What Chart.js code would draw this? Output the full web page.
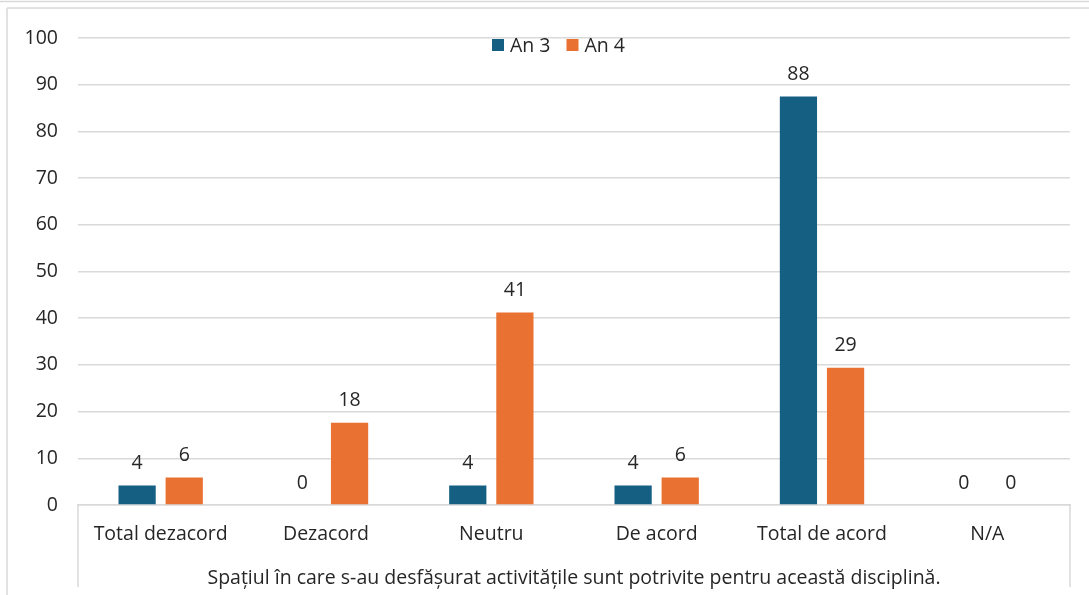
<!DOCTYPE html>
<html>
<head>
<meta charset="utf-8">
<script src="https://cdn.jsdelivr.net/npm/chart.js@4"></script>
<style>
  html, body { margin: 0; padding: 0; background: #ffffff; }
  #wrap { width: 1089px; height: 595px; position: relative; }
</style>
</head>
<body>
<div id="wrap"><canvas id="c" width="1089" height="595"></canvas></div>
<script>
const categories = ["Total dezacord", "Dezacord", "Neutru", "De acord", "Total de acord", "N/A"];
const seriesNames = ["An 3", "An 4"];
const an3 = [4.2, 0, 4.2, 4.2, 87.5, 0];
const an4 = [5.9, 17.6, 41.2, 5.9, 29.4, 0];
const yTicks = [0, 10, 20, 30, 40, 50, 60, 70, 80, 90, 100];
const groupTitle = "Spațiul în care s-au desfășurat activitățile sunt potrivite pentru această disciplină.";

const FONT = "'Open Sans', 'Liberation Sans', Arial, sans-serif";
const FSIZE = 19.5;
const TEXT = "#262626";
const GRID = "#d9d9d9";
const COLORS = ["#156082", "#E97132"];

const decor = {
  id: 'decor',
  beforeDraw(chart) {
    const ctx = chart.ctx;
    ctx.save();
    ctx.strokeStyle = GRID;
    ctx.lineWidth = 1.5;
    ctx.beginPath();
    ctx.moveTo(0, 1.5); ctx.lineTo(chart.width, 1.5);
    ctx.moveTo(7, 8); ctx.lineTo(chart.width, 8);
    ctx.moveTo(7, 8); ctx.lineTo(7, chart.height);
    ctx.stroke();
    ctx.restore();
  },
  afterDraw(chart) {
    const ctx = chart.ctx;
    const a = chart.chartArea;
    ctx.save();
    ctx.strokeStyle = GRID;
    ctx.lineWidth = 1.5;
    ctx.beginPath();
    ctx.moveTo(a.left, a.bottom); ctx.lineTo(a.left, chart.height - 8);
    ctx.moveTo(a.right, a.bottom); ctx.lineTo(a.right, chart.height - 8);
    ctx.stroke();
    ctx.restore();
  },
  afterDatasetsDraw(chart) {
    const ctx = chart.ctx;
    ctx.save();
    ctx.font = FSIZE + "px " + FONT;
    ctx.fillStyle = TEXT;
    ctx.textAlign = 'center';
    ctx.textBaseline = 'middle';
    chart.data.datasets.forEach((ds, i) => {
      const meta = chart.getDatasetMeta(i);
      meta.data.forEach((el, j) => {
        ctx.fillText(String(Math.round(ds.data[j])), el.x, el.y - 22);
      });
    });
    // legend
    const items = chart.data.datasets.map(ds => ({ label: ds.label, color: ds.backgroundColor }));
    const box = 12, gapText = 6, gapItem = 16;
    let total = 0;
    items.forEach((it, k) => {
      it.w = ctx.measureText(it.label).width;
      total += box + gapText + it.w + (k < items.length - 1 ? gapItem : 0);
    });
    let x = chart.width / 2 + 14 - total / 2;
    const cy = 45;
    ctx.textAlign = 'left';
    items.forEach(it => {
      ctx.fillStyle = it.color;
      ctx.fillRect(x, cy - box / 2, box, box);
      x += box + gapText;
      ctx.fillStyle = TEXT;
      ctx.fillText(it.label, x, cy + 1);
      x += it.w + gapItem;
    });
    ctx.restore();
  }
};

new Chart(document.getElementById('c'), {
  type: 'bar',
  data: {
    labels: categories,
    datasets: [
      { label: seriesNames[0], data: an3, backgroundColor: COLORS[0] },
      { label: seriesNames[1], data: an4, backgroundColor: COLORS[1] }
    ]
  },
  options: {
    responsive: false,
    animation: false,
    devicePixelRatio: 1,
    layout: { padding: { left: 0, right: 19, top: 38, bottom: 0 } },
    categoryPercentage: 0.57,
    barPercentage: 0.79,
    plugins: { legend: { display: false }, tooltip: { enabled: false } },
    scales: {
      x: {
        grid: { display: false, drawTicks: false },
        border: { display: true, color: GRID, width: 1.5 },
        ticks: { color: TEXT, font: { family: FONT, size: FSIZE }, padding: 18, maxRotation: 0, autoSkip: false },
        title: { display: true, text: groupTitle, color: TEXT, font: { family: FONT, size: FSIZE }, padding: { top: 0, bottom: 5 } },
        afterFit(scale) { scale.height = 90; }
      },
      y: {
        min: 0, max: 100,
        afterBuildTicks(scale) { scale.ticks = yTicks.map(v => ({ value: v })); },
        grid: { color: GRID, lineWidth: 1.5, drawTicks: false },
        border: { display: false },
        ticks: { color: TEXT, font: { family: FONT, size: FSIZE }, padding: 20 },
        afterFit(scale) { scale.width = 78; }
      }
    }
  },
  plugins: [decor]
});
</script>
</body>
</html>
